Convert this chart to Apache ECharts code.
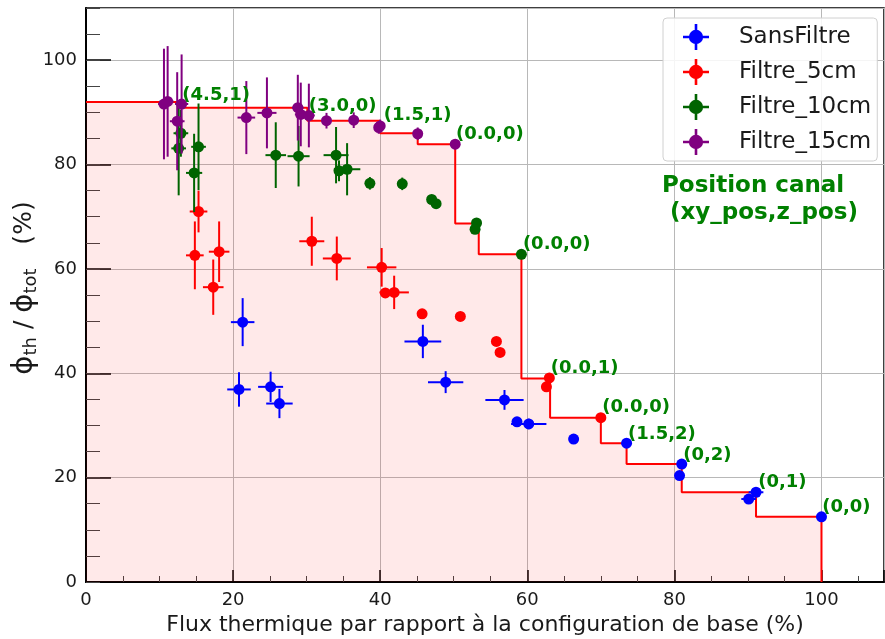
<!DOCTYPE html>
<html>
<head>
<meta charset="utf-8">
<script src="https://cdn.jsdelivr.net/npm/echarts@6/dist/echarts.min.js"></script>
<style>
  html, body { margin: 0; padding: 0; background: #fff; }
  #main { width: 885px; height: 639px; }
</style>
</head>
<body>
<div id="main"></div>
<script>
// series names (legend order)
const names = ['SansFiltre', 'Filtre_5cm', 'Filtre_10cm', 'Filtre_15cm'];

// SansFiltre
const sansX    = [20.8, 21.3, 25.1, 26.3, 45.8, 48.9, 56.9, 58.6, 60.2, 66.3, 73.5, 81.0, 80.7, 91.1, 90.1, 100.0];
const sansY    = [36.9, 49.8, 37.4, 34.2, 46.1, 38.3, 34.9, 30.7, 30.3, 27.4, 26.6, 22.6, 20.4, 17.2, 15.9, 12.5];
const sansXerr = [1.6, 1.6, 1.7, 1.8, 2.5, 2.4, 2.6, 0.6, 2.4, 0.5, 0.5, 0.5, 0.5, 1.0, 1.0, 0.5];
const sansYerr = [3.3, 4.6, 2.9, 2.8, 3.2, 2.1, 1.9, 0.6, 1.0, 0.5, 0.5, 0.5, 0.5, 0.5, 0.5, 0.5];

// Filtre_5cm
const f5X    = [15.3, 14.8, 18.1, 17.3, 30.7, 34.1, 40.2, 40.7, 41.9, 45.7, 50.9, 55.8, 56.3, 63.0, 62.6, 70.0];
const f5Y    = [71.0, 62.6, 63.3, 56.5, 65.3, 62.0, 60.3, 55.4, 55.5, 51.4, 50.9, 46.1, 44.0, 39.1, 37.4, 31.5];
const f5Xerr = [1.2, 1.2, 1.4, 1.4, 1.7, 1.9, 2.0, 0.5, 2.0, 0.3, 0.3, 0.3, 0.3, 0.3, 0.3, 0.3];
const f5Yerr = [4.0, 6.5, 5.8, 5.3, 4.7, 4.2, 3.7, 0.5, 3.2, 0.3, 0.3, 0.3, 0.3, 0.3, 0.3, 0.3];

// Filtre_10cm
const f10X    = [12.9, 12.6, 15.3, 14.7, 25.8, 28.9, 34.0, 34.4, 35.5, 38.6, 43.0, 47.0, 47.6, 53.1, 52.9, 59.2];
const f10Y    = [86.0, 83.1, 83.4, 78.4, 81.8, 81.6, 81.8, 78.8, 79.1, 76.4, 76.3, 73.3, 72.5, 68.8, 67.6, 62.8];
const f10Xerr = [1.0, 1.0, 1.0, 1.1, 1.4, 1.5, 1.7, 0.6, 1.8, 0.4, 0.4, 0.3, 0.3, 0.3, 0.3, 0.3];
const f10Yerr = [4.5, 9.0, 8.3, 7.5, 6.3, 5.8, 5.4, 2.0, 5.0, 1.2, 1.2, 0.4, 0.4, 0.4, 0.4, 0.4];

// Filtre_15cm
const f15X    = [10.6, 11.1, 13.0, 12.4, 21.8, 24.6, 28.8, 29.2, 30.3, 32.7, 36.4, 39.8, 40.0, 45.1, 50.2];
const f15Y    = [91.6, 92.1, 91.6, 88.3, 89.0, 89.9, 90.9, 89.6, 89.4, 88.4, 88.5, 87.1, 87.4, 85.9, 83.9];
const f15Xerr = [0.8, 0.8, 0.9, 1.0, 1.2, 1.3, 0.8, 0.8, 0.8, 0.5, 0.5, 0.5, 0.5, 0.5, 0.4];
const f15Yerr = [10.6, 10.6, 9.5, 9.4, 7.0, 6.8, 6.3, 6.1, 6.1, 1.5, 1.5, 1.2, 1.2, 1.2, 1.0];

// best-channel envelope (step)
const stepX = [0, 12.9, 30.1, 40.0, 45.1, 50.2, 53.4, 59.2, 63.1, 70.0, 73.5, 81.0, 91.1, 100, 100];
const stepY = [92.0, 90.9, 88.4, 86.0, 83.9, 68.7, 62.8, 39.0, 31.5, 26.6, 22.6, 17.2, 12.5, 12.5, 0];

// channel position annotations
const labX   = [13.1, 30.3, 40.5, 50.3, 59.4, 63.2, 70.2, 73.7, 81.2, 91.4, 100.1];
const labY   = [91.6, 89.5, 87.7, 84.1, 63.0, 39.2, 31.7, 26.5, 22.6, 17.3, 12.5];
const labTxt = ['(4.5,1)', '(3.0,0)', '(1.5,1)', '(0.0,0)', '(0.0,0)', '(0.0,1)', '(0.0,0)', '(1.5,2)', '(0,2)', '(0,1)', '(0,0)'];

const colors = ['#0000ff', '#ff0000', '#006400', '#800080'];
const sets = [
  [sansX, sansY, sansXerr, sansYerr],
  [f5X, f5Y, f5Xerr, f5Yerr],
  [f10X, f10Y, f10Xerr, f10Yerr],
  [f15X, f15Y, f15Xerr, f15Yerr]
];

const crossIcon = 'path://M0,9L20,9L20,11L0,11Z M9,0L11,0L11,20L9,20Z M10,4.5A5.5,5.5 0 1,1 9.99,4.5Z';

function errRender(color) {
  return function (params, api) {
    const x = api.value(0), y = api.value(1), ex = api.value(2), ey = api.value(3);
    const c = api.coord([x, y]);
    const l = api.coord([x - ex, y]), r = api.coord([x + ex, y]);
    const t = api.coord([x, y + ey]), b = api.coord([x, y - ey]);
    const st = { stroke: color, lineWidth: 2 };
    return {
      type: 'group',
      children: [
        { type: 'line', shape: { x1: l[0], y1: l[1], x2: r[0], y2: r[1] }, style: st },
        { type: 'line', shape: { x1: t[0], y1: t[1], x2: b[0], y2: b[1] }, style: st },
        { type: 'circle', shape: { cx: c[0], cy: c[1], r: 5.5 }, style: { fill: color } }
      ]
    };
  };
}

const series = [
  {
    type: 'line',
    step: 'end',
    data: stepX.map((x, i) => [x, stepY[i]]),
    symbol: 'none',
    lineStyle: { color: '#ff0000', width: 2 },
    areaStyle: { color: 'rgba(255,0,0,0.12)' },
    z: 1,
    silent: true
  }
];
sets.forEach((s, k) => {
  series.push({
    name: names[k],
    type: 'custom',
    itemStyle: { color: colors[k] },
    data: s[0].map((x, i) => [x, s[1][i], s[2][i], s[3][i]]),
    renderItem: errRender(colors[k]),
    z: 3 + k
  });
});
series.push({
  type: 'custom',
  data: labX.map((x, i) => [x, labY[i], labTxt[i]]),
  renderItem: function (params, api) {
    const p = api.coord([api.value(0), api.value(1)]);
    return {
      type: 'text', x: p[0], y: p[1],
      style: {
        text: labTxt[params.dataIndex], fill: '#008000',
        font: 'bold 18px "DejaVu Sans"', align: 'left', verticalAlign: 'bottom'
      }
    };
  },
  z: 10,
  silent: true
});

const chart = echarts.init(document.getElementById('main'));
const option = {
  animation: false,
  grid: {
    left: 86, right: 1, top: 8, bottom: 57,
    containLabel: false, outerBoundsMode: 'none',
    show: true, borderColor: '#000', borderWidth: 1.5, backgroundColor: 'transparent'
  },
  legend: {
    data: names.map(n => ({ name: n, icon: crossIcon })),
    orient: 'vertical',
    left: 663, top: 18,
    itemWidth: 26, itemHeight: 26, itemGap: 9,
    textStyle: { fontSize: 23, fontFamily: 'DejaVu Sans', color: '#1a1a1a', padding: [0, 0, 0, 25] },
    backgroundColor: 'rgba(255,255,255,0.85)',
    borderColor: '#d0d0d0', borderWidth: 1, borderRadius: 4,
    padding: [6, 6, 6, 20]
  },
  graphic: [{
    type: 'text', left: 662, top: 173,
    style: { text: 'Position canal\n (xy_pos,z_pos)', fill: '#008000', font: 'bold 23px "DejaVu Sans"', lineHeight: 27 },
    z: 100
  }],
  xAxis: [{
    type: 'value', min: 0, max: 108.5, interval: 20,
    name: 'Flux thermique par rapport à la configuration de base (%)',
    nameLocation: 'middle', nameGap: 30,
    nameTextStyle: { fontSize: 22, fontFamily: 'DejaVu Sans', color: '#1a1a1a' },
    axisLine: { lineStyle: { color: '#000', width: 2 } },
    axisTick: { inside: true, length: 12, lineStyle: { color: '#000', width: 1.5 } },
    minorTick: { show: true, splitNumber: 4, length: 6, lineStyle: { color: '#444', width: 1 } },
    axisLabel: { fontSize: 18, fontFamily: 'DejaVu Sans', color: '#1a1a1a', margin: 9, showMaxLabel: false },
    splitLine: { show: true, lineStyle: { color: '#b8b8b8', width: 1 } }
  }],
  yAxis: [{
    type: 'value', min: 0, max: 110, interval: 20,
    name: '{p|ϕ}{s|th}{n| / }{p|ϕ}{s|tot}{n|   (%)}',
    nameLocation: 'middle', nameGap: 46, nameRotate: 90, nameMoveOverlap: false,
    nameTextStyle: {
      fontFamily: 'DejaVu Sans', color: '#1a1a1a', padding: [0, 0, 0, 14],
      rich: {
        p: { fontSize: 29, fontFamily: 'DejaVu Sans', color: '#1a1a1a', lineHeight: 32 },
        s: { fontSize: 18, fontFamily: 'DejaVu Sans', color: '#1a1a1a', verticalAlign: 'bottom', lineHeight: 32 },
        n: { fontSize: 25, fontFamily: 'DejaVu Sans', color: '#1a1a1a', lineHeight: 32 }
      }
    },
    axisLine: { lineStyle: { color: '#000', width: 2 } },
    axisTick: { inside: true, length: 25, lineStyle: { color: '#000', width: 1.5 } },
    axisLabel: { fontSize: 18, fontFamily: 'DejaVu Sans', color: '#1a1a1a', margin: 9, showMaxLabel: false },
    splitLine: { show: true, lineStyle: { color: '#b8b8b8', width: 1 } }
  }, {
    type: 'value', min: 0, max: 110, interval: 5, position: 'left', offset: 0,
    axisLine: { show: false },
    axisTick: { inside: true, length: 14, lineStyle: { color: '#444', width: 1 } },
    axisLabel: { show: false },
    splitLine: { show: false }
  }],
  series: series
};
chart.setOption(option);
</script>
</body>
</html>
